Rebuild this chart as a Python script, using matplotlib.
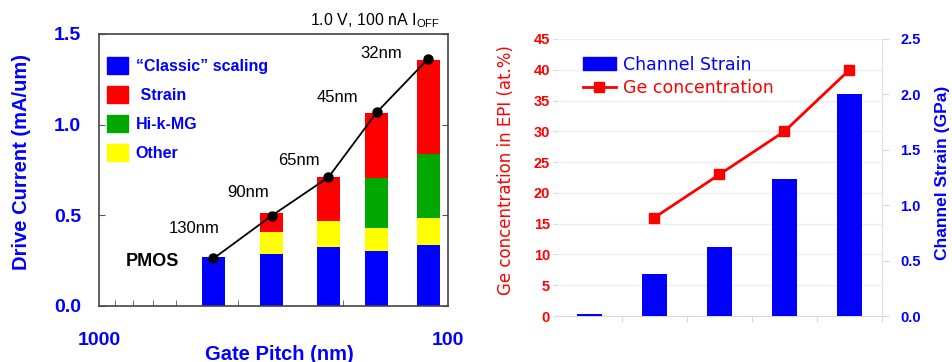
import matplotlib
matplotlib.use("Agg")
import matplotlib.pyplot as plt
from matplotlib.patches import Patch
from matplotlib.lines import Line2D
from matplotlib.ticker import NullFormatter
import numpy as np

plt.rcParams['font.family'] = ['Liberation Sans', 'DejaVu Sans']

# --- left chart: PMOS drive current vs gate pitch ---
nodes = ['130nm', '90nm', '65nm', '45nm', '32nm']
pitch = [470, 320, 220, 160, 114]            # nm
classic = [0.268, 0.286, 0.325, 0.303, 0.339]
other = [0.0, 0.124, 0.144, 0.129, 0.144]
himg = [0.0, 0.0, 0.0, 0.276, 0.355]
strain = [0.0, 0.101, 0.245, 0.358, 0.518]
drive = [0.262, 0.498, 0.71, 1.068, 1.363]
label_offsets = [(-19, 30), (-24, 23), (-30, 17), (-39, 15), (-47, 5)]  # pixels

# --- right chart: Ge concentration and channel strain ---
gen_idx = [0, 1, 2, 3, 4]
channel_strain = [0.02, 0.377, 0.62, 1.24, 2.0]    # GPa
ge_conc = [np.nan, 16, 23, 30, 40]                 # at.%

BLUE = '#0000ff'
RED = '#ff0000'
GREEN = '#00a800'
YELLOW = '#ffff00'

fig = plt.figure(figsize=(9.53, 3.62), dpi=100)

# ---------------- left ----------------
ax = fig.add_axes([99/953, 1-306/362, 349/953, 272/362])
half = 10**0.033
lefts = [p*half for p in pitch]
widths = [p/half - p*half for p in pitch]
bottom = np.zeros(len(pitch))
for vals, col in [(classic, BLUE), (other, YELLOW), (himg, GREEN), (strain, RED)]:
    ax.bar(lefts, vals, width=widths, bottom=bottom, color=col, align='edge',
           linewidth=0, zorder=2)
    bottom += np.array(vals)
ax.plot(pitch, drive, '-o', color='black', lw=1.3, ms=6.5, zorder=3)
for p, d, lab, off in zip(pitch, drive, nodes, label_offsets):
    ax.annotate(lab, (p, d), xytext=(off[0]*0.72, off[1]*0.72), textcoords='offset points',
                ha='center', va='center', fontsize=12, color='black')

ax.set_xscale('log')
ax.set_xlim(1000, 100)
ax.set_ylim(0, 1.5)
ax.set_yticks([0, 0.5, 1.0, 1.5])
ax.set_yticklabels(['0.0', '0.5', '1.0', '1.5'])
ax.set_xticks([1000, 100])
ax.set_xticklabels(['1000', '100'])
ax.xaxis.set_minor_formatter(NullFormatter())
ax.tick_params(axis='y', direction='in', length=4, pad=13, labelsize=14,
               labelcolor=BLUE, color='#555555', right=True)
ax.tick_params(axis='x', which='major', direction='in', length=0, pad=19,
               labelsize=14, labelcolor=BLUE)
ax.tick_params(axis='x', which='minor', direction='in', length=4, color='#555555')
for lab in ax.get_xticklabels() + ax.get_yticklabels():
    lab.set_fontweight('bold')
for s in ax.spines.values():
    s.set_color('#444444')
    s.set_linewidth(1.2)

ax.set_ylabel('Drive Current (mA/um)', fontsize=14.5, fontweight='bold', color=BLUE)
ax.yaxis.set_label_coords(-0.195, 0.529)
ax.set_xlabel('Gate Pitch (nm)', fontsize=14.5, fontweight='bold', color=BLUE)
ax.xaxis.set_label_coords(0.516, -0.143)

ax.text(0.978, 1.048, r'1.0 V, 100 nA I$_\mathregular{OFF}$', transform=ax.transAxes,
        ha='right', va='center', fontsize=11.5)
ax.text(0.152, 0.162, 'PMOS', transform=ax.transAxes, ha='center', va='center',
        fontsize=13, fontweight='bold')

handles = [Patch(color=c) for c in (BLUE, RED, GREEN, YELLOW)]
leg = ax.legend(handles, ['\u201cClassic\u201d scaling', ' Strain', 'Hi-k-MG', 'Other'],
                loc='upper left', bbox_to_anchor=(0.023, 0.915), frameon=False,
                borderpad=0, borderaxespad=0, handlelength=1.3, handleheight=1.25,
                handletextpad=0.5, labelspacing=0.76,
                prop={'size': 11.5, 'weight': 'bold'})
for t in leg.get_texts():
    t.set_color(BLUE)

# ---------------- right ----------------
axr = fig.add_axes([557/953, 1-316/362, 325/953, 277/362])
axs = axr.twinx()

axr.plot(gen_idx, ge_conc, '-s', color=RED, lw=2, ms=7, zorder=3)
axs.bar(gen_idx, channel_strain, width=0.39, color=BLUE, zorder=2)

axr.set_xlim(-0.5, 4.5)
axr.set_ylim(0, 45)
axr.set_yticks(range(0, 50, 5))
axs.set_ylim(0, 2.5)
axs.set_yticks([0, 0.5, 1.0, 1.5, 2.0, 2.5])
axs.set_yticklabels(['0.0', '0.5', '1.0', '1.5', '2.0', '2.5'])
axr.set_xticks([0.5, 1.5, 2.5, 3.5, 4.5])
axr.set_xticklabels([])
axr.tick_params(axis='x', length=4, color='#d8d8d8')
axr.tick_params(axis='y', length=3, color='#d8d8d8', pad=2, labelsize=10.5, labelcolor=RED)
axs.tick_params(axis='y', length=5, color='#d8d8d8', pad=8, labelsize=10.5, labelcolor=BLUE)
for lab in axr.get_yticklabels() + axs.get_yticklabels():
    lab.set_fontweight('bold')
axr.grid(axis='y', color='#efefef', lw=1)
axr.set_axisbelow(True)
for a in (axr, axs):
    for s in a.spines.values():
        s.set_visible(False)
axr.spines['bottom'].set_visible(True)
axr.spines['bottom'].set_color('#d8d8d8')
axs.spines['right'].set_visible(True)
axs.spines['right'].set_color('#e0e0e0')

axr.set_ylabel('Ge concentration in EPI (at.%)', fontsize=12, color=RED,
               family='DejaVu Sans')
axr.yaxis.set_label_coords(-0.129, 0.527)
axs.set_ylabel('Channel Strain (GPa)', fontsize=12.5, fontweight='bold', color=BLUE)
axs.yaxis.set_label_coords(1.163, 0.518)

h2 = [Patch(color=BLUE), Line2D([], [], color=RED, lw=2, marker='s', ms=7)]
leg2 = axs.legend(h2, ['Channel Strain', 'Ge concentration'], loc='upper left',
                  bbox_to_anchor=(0.08, 0.94), frameon=False, borderpad=0,
                  borderaxespad=0, handlelength=1.9, handleheight=0.75,
                  handletextpad=0.4, labelspacing=0.32,
                  prop={'family': 'DejaVu Sans', 'size': 12.5})
leg2.get_texts()[0].set_color(BLUE)
leg2.get_texts()[1].set_color(RED)

fig.savefig('out.png', dpi=100)
